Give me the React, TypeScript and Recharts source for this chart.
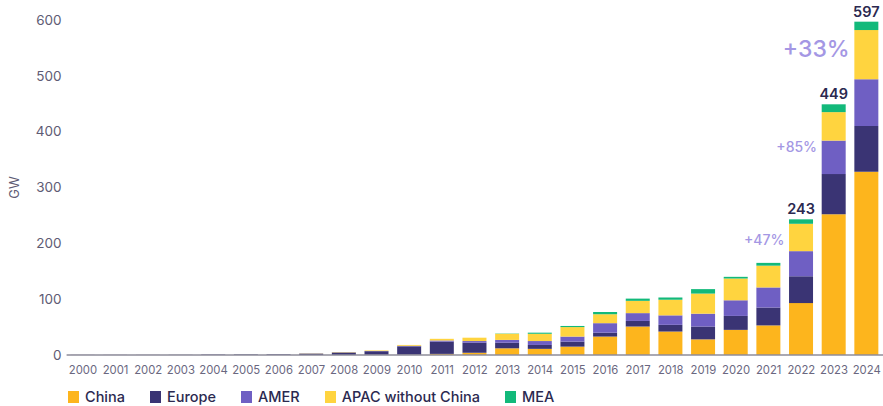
import React from 'react';
import { BarChart, Bar, XAxis, YAxis, Legend, LabelList, ReferenceDot, Label } from 'recharts';

const years = ['2000','2001','2002','2003','2004','2005','2006','2007','2008','2009','2010','2011','2012','2013','2014','2015','2016','2017','2018','2019','2020','2021','2022','2023','2024'];
const china  = [0,0,0,0,0,0,0,0,0,0.3,0.5,2,4,12,11,15,33,51,42,28,45,53,93,252,328];
const europe = [0.2,0.2,0.2,0.3,0.8,1,1.2,2.5,4.5,6.5,15,22,18,10,7,9,7,10,12,23,25,32,48,72,82];
const amer   = [0,0,0,0,0,0,0,0.1,0.2,0.3,1,2,3,5,7,9,17,14,17,23,28,36,45,60,84];
const apac   = [0,0,0,0,0,0,0,0.3,0.5,1,1.5,3,6,11,13,17,16,22,28,36,39,39,49,51,88];
const mea    = [0,0,0,0,0,0,0,0,0,0,0,0,0,0.5,2,2,4,4,4,8,3,5,8,14,15];
const totalLabels = ['','','','','','','','','','','','','','','','','','','','','','','243','449','597'];

const growthYears = ['2022','2023','2024'];
const growthLabels = ['+47%','+85%','+33%'];
const growthAnchors = [206, 373, 548];
const growthSizes = [14, 14, 23];

const yTicks = [0,100,200,300,400,500,600];

const series = [
  { key: 'china', name: 'China', color: '#FDB51D' },
  { key: 'europe', name: 'Europe', color: '#3A3474' },
  { key: 'amer', name: 'AMER', color: '#6F5FC3' },
  { key: 'apac', name: 'APAC without China', color: '#FFD43F' },
  { key: 'mea', name: 'MEA', color: '#12B97A' },
];

const data = years.map((y, i) => ({
  year: y,
  china: china[i],
  europe: europe[i],
  amer: amer[i],
  apac: apac[i],
  mea: mea[i],
  total: totalLabels[i],
}));

const FONT = 'Inter, "Open Sans", sans-serif';

const LegendContent = () => (
  <div style={{ display: 'flex', alignItems: 'center', fontFamily: FONT, fontSize: 14.5, fontWeight: 500, color: '#2B2950' }}>
    {series.map((s) => (
      <div key={s.key} style={{ display: 'flex', alignItems: 'center', marginRight: 25 }}>
        <div style={{ width: 11, height: 12, background: s.color, marginRight: 6 }} />
        <span>{s.name}</span>
      </div>
    ))}
  </div>
);

const GwLabel = (props: any) => {
  const vb = props.viewBox || {};
  const cy = vb.y + vb.height / 2;
  return (
    <text x={19} y={cy} transform={`rotate(-90, 19, ${cy})`} textAnchor="middle" fill="#5E5B74" fontSize={13} fontFamily={FONT}>GW</text>
  );
};

export default function App() {
  return (
    <div style={{ position: 'absolute', left: 0, top: 0, width: 883, height: 406, background: '#fff' }}>
      <BarChart width={883} height={406} data={data} margin={{ top: 20, right: 0, bottom: 0, left: 0 }} barSize={24}>
        <XAxis
          dataKey="year"
          tickLine={false}
          tickSize={0}
          tickMargin={11}
          axisLine={{ stroke: '#8E8C9A', strokeWidth: 1.5 }}
          tick={{ fill: '#6A6780', fontSize: 11.3, fontFamily: FONT }}
          interval={0}
          height={27}
        />
        <YAxis
          domain={[0, 600]}
          ticks={yTicks}
          width={66.6}
          tickLine={false}
          tickSize={0}
          tickMargin={5}
          axisLine={false}
          tick={{ fill: '#5E5B74', fontSize: 13.5, fontFamily: FONT }}
        >
          <Label content={<GwLabel />} />
        </YAxis>
        <Legend
          verticalAlign="bottom"
          content={<LegendContent />}
          wrapperStyle={{ left: 68, bottom: -6, height: 24, width: 'auto' }}
        />
        {series.map((s) => (
          <Bar key={s.key} dataKey={s.key} name={s.name} stackId="a" fill={s.color} isAnimationActive={false}>
            {s.key === 'mea' && (
              <LabelList dataKey="total" position="top" offset={5} fill="#2B2950" fontSize={14.5} fontWeight={600} fontFamily={FONT} />
            )}
          </Bar>
        ))}
        {growthYears.map((yr, i) => (
          <ReferenceDot key={yr} x={yr} y={growthAnchors[i]} r={0} fill="none" stroke="none"
            label={{ value: growthLabels[i], position: 'left', offset: 17, fill: '#A497E4', fontSize: growthSizes[i], fontWeight: 500, fontFamily: FONT }} />
        ))}
      </BarChart>
    </div>
  );
}
